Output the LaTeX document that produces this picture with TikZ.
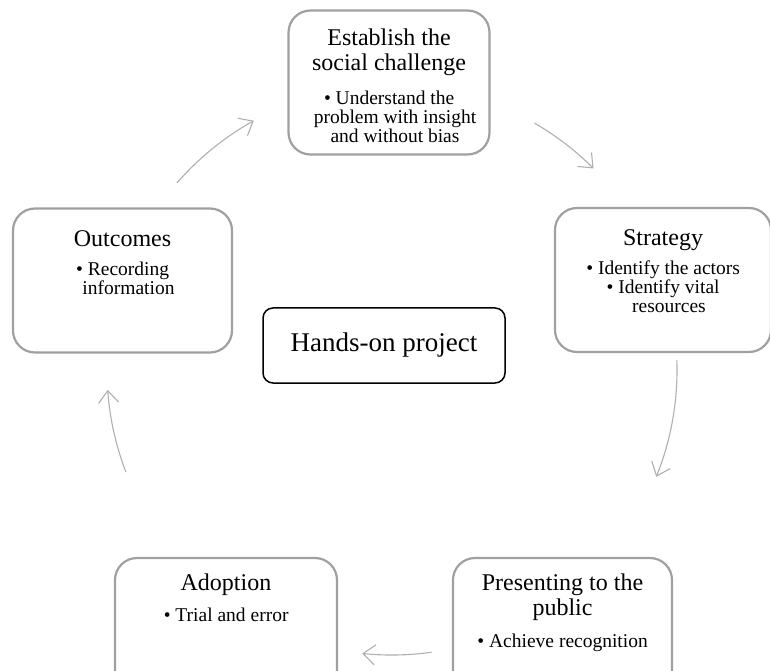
\documentclass[tikz,border=0pt]{standalone}
\usepackage{fontspec}
\setmainfont{Liberation Serif}
\usetikzlibrary{arrows.meta}
\definecolor{stagegray}{RGB}{160,160,160}
\definecolor{arrowgray}{RGB}{175,175,175}

\begin{document}
\begin{tikzpicture}[x=1pt,y=1pt,
  stage/.style={draw=stagegray,line width=2.2pt,rounded corners=22pt,minimum height=144pt,inner sep=0pt},
  stagetitle/.style={anchor=north,align=center,inner sep=0pt,font=\fontsize{24}{25}\selectfont},
  stagepoints/.style={anchor=north,align=center,inner sep=0pt,font=\fontsize{19.5}{19}\selectfont},
  cyclearrow/.style={draw=arrowgray,line width=1.1pt,-{Straight Barb[length=12pt,width=20pt]}}]
\useasboundingbox (0,0) rectangle (770,670);
% the five stages round the cycle
\node[stage,minimum width=201pt] (challenge) at (389,587.5) {};
\node[stage,minimum width=216pt] (strategy) at (663,390) {};
\node[stage,minimum width=219pt] (presenting) at (562.5,40) {};
\node[stage,minimum width=222pt] (adoption) at (226,40) {};
\node[stage,minimum width=219pt] (outcomes) at (122.5,389.5) {};
% headings
\node[stagetitle] (challengetitle) at ([yshift=-19pt]challenge.north) {Establish the\\social challenge};
\node[stagetitle] (strategytitle) at ([yshift=-23pt]strategy.north) {Strategy};
\node[stagetitle] (presentingtitle) at ([yshift=-17pt]presenting.north) {Presenting to the\\public};
\node[stagetitle] (adoptiontitle) at ([yshift=-17pt]adoption.north) {Adoption};
\node[stagetitle] (outcomestitle) at ([yshift=-23pt]outcomes.north) {Outcomes};
% bullet points
\node[stagepoints] (challengepoints) at ([xshift=6pt,yshift=-81pt]challenge.north)
  {\llap{\textbullet\ }Understand the\\problem with insight\\and without bias};
\node[stagepoints] (strategypoints) at ([xshift=6pt,yshift=-54pt]strategy.north)
  {\llap{\textbullet\ }Identify the actors\\\llap{\textbullet\ }Identify vital\\resources};
\node[stagepoints] (presentingpoints) at ([xshift=6pt,yshift=-77pt]presenting.north)
  {\llap{\textbullet\ }Achieve recognition};
\node[stagepoints] (adoptionpoints) at ([xshift=6pt,yshift=-51pt]adoption.north)
  {\llap{\textbullet\ }Trial and error};
\node[stagepoints] (outcomespoints) at ([xshift=6pt,yshift=-54pt]outcomes.north)
  {\llap{\textbullet\ }Recording\\information};
% centre
\node[draw,line width=1.5pt,rounded corners=10pt,minimum width=242pt,minimum height=75pt,
  font=\fontsize{27}{30}\selectfont] (hub) at (384,324.5) {Hands-on project};
% cycle arrows
\coordinate (ring) at (392,300);
\draw[cyclearrow] ([shift={(139:285)}]ring) arc[start angle=139,end angle=119,radius=285];
\draw[cyclearrow] ([shift={(60:285)}]ring) arc[start angle=60,end angle=45,radius=285];
\draw[cyclearrow] ([shift={(2:285)}]ring) arc[start angle=2,end angle=-22,radius=285];
\draw[cyclearrow] ([shift={(-82:285)}]ring) arc[start angle=-82,end angle=-96,radius=285];
\draw[cyclearrow] ([shift={(201:285)}]ring) arc[start angle=201,end angle=184,radius=285];
\end{tikzpicture}
\end{document}
